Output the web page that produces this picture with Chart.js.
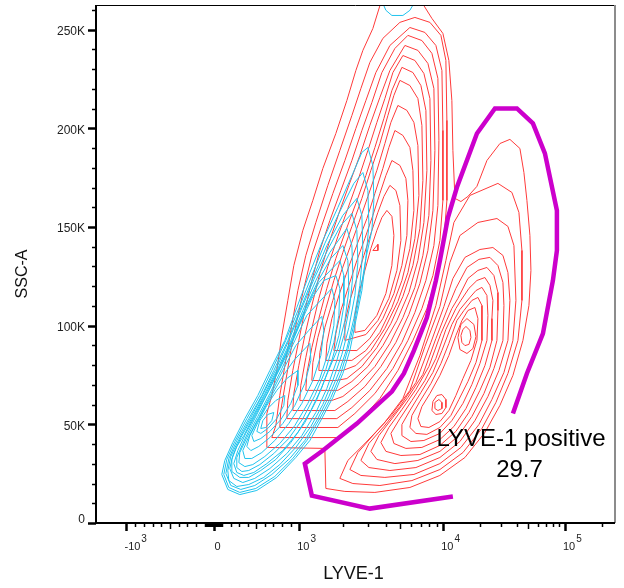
<!DOCTYPE html>
<html>
<head>
<meta charset="utf-8">
<script src="https://cdn.jsdelivr.net/npm/chart.js@4/dist/chart.umd.min.js"></script>
<style>
  html, body { margin: 0; padding: 0; background: #fff; }
</style>
</head>
<body>
<canvas id="plot" width="624" height="588"></canvas>
<script>
// Contour lines: [LYVE-1 intensity, SSC-A in thousands]
const redOuterRing = [[3693,263.8],[7113,263.8],[8347,255.7],[9950,248.1],[11130,234.4],[11780,214.1],[12010,188.8],[12480,164.5],[13980,162.9],[15960,165.5],[18920,170.6],[22860,183.7],[29230,192.3],[35310,194.4],[42660,189.8],[46010,177.6],[48700,163.5],[51540,145.7],[52530,128.0],[50580,110.2],[45150,92.5],[37380,74.8],[29230,59.6],[22010,45.9],[15080,33.2],[9487,24.1],[5872,18.0],[3355,15.5],[2077,16.0],[1532,17.5],[1508,37.8],[623,38.3],[623,55.5],[681,64.6],[739,77.3],[798,95.0],[868,112.8],[938,130.5],[1061,148.3],[1245,163.5],[1461,179.7],[1798,197.4],[2144,214.1],[2476,229.3],[2770,239.5],[3249,250.6]];

const redMainRings = [
  [[6360,256.2],[8085,253.7],[9640,247.1],[10520,234.4],[10720,204.0],[10720,163.5],[10130,143.2],[9042,125.4],[7705,108.7],[6161,92.5],[4847,77.3],[3635,63.1],[2640,51.9],[1917,43.3],[681,43.3],[728,49.4],[774,64.6],[844,82.4],[914,100.1],[985,117.8],[1113,135.6],[1306,152.3],[1582,171.1],[1917,188.8],[2323,206.5],[2683,220.2],[3097,233.4],[3813,245.6],[5004,253.7]],
  [[5872,251.1],[7463,248.6],[8898,242.0],[9795,229.3],[9950,198.9],[9950,163.5],[9487,143.2],[8482,125.4],[7113,108.7],[5687,92.5],[4475,78.3],[3355,65.6],[2437,55.5],[1857,48.4],[774,48.4],[786,57.0],[844,72.2],[903,87.4],[973,102.6],[1078,118.9],[1225,135.6],[1437,150.8],[1714,167.0],[2077,183.7],[2476,199.9],[2906,214.1],[3409,228.3],[4265,242.0]],
  [[5687,247.1],[7113,244.5],[8347,238.0],[9187,225.3],[9335,193.9],[9187,160.9],[8618,140.6],[7583,122.9],[6360,106.7],[5167,91.5],[4065,78.3],[3097,67.2],[2323,58.5],[1827,52.9],[856,52.9],[868,62.1],[926,77.3],[996,92.5],[1095,107.7],[1225,122.9],[1392,138.1],[1634,153.3],[1948,168.5],[2323,183.7],[2726,198.9],[3198,213.1],[3753,228.3],[4620,240.5]],
  [[5421,242.0],[6673,239.5],[7829,232.9],[8618,220.2],[8757,188.8],[8482,158.4],[7829,138.1],[6889,121.4],[5779,105.7],[4695,91.5],[3693,79.3],[2860,69.2],[2179,61.6],[1770,57.0],[926,57.0],[938,65.6],[996,79.8],[1095,95.0],[1225,110.2],[1392,126.5],[1608,141.7],[1887,156.9],[2214,171.1],[2640,186.3],[3097,201.5],[3635,215.7],[4265,229.3]],
  [[5250,236.9],[6360,234.4],[7344,227.8],[8085,215.1],[8215,183.7],[7956,155.9],[7228,135.6],[6360,119.4],[5250,104.1],[4265,91.0],[3355,79.3],[2598,70.7],[2011,64.1],[1687,62.1],[1011,62.1],[1027,69.7],[1113,83.9],[1225,98.6],[1370,113.8],[1582,130.0],[1857,145.2],[2179,159.4],[2557,173.6],[3001,188.8],[3464,203.0],[3937,215.1],[4475,228.3]],
  [[5167,230.9],[6161,228.3],[7000,221.7],[7583,209.1],[7705,178.7],[7344,152.3],[6673,133.0],[5779,116.8],[4770,102.6],[3813,89.9],[3001,79.3],[2323,71.7],[1857,67.2],[1113,67.2],[1131,75.8],[1225,88.9],[1370,103.6],[1557,118.9],[1798,134.1],[2110,148.3],[2476,161.9],[2906,176.1],[3355,190.3],[3875,205.0],[4404,219.2]],
  [[5004,224.3],[5872,221.7],[6673,215.1],[7113,201.5],[7228,173.6],[6889,149.3],[6161,130.5],[5250,114.8],[4334,101.1],[3464,88.9],[2726,79.3],[2144,73.2],[1798,72.2],[1225,72.2],[1245,81.3],[1348,94.0],[1532,108.7],[1742,122.9],[2011,137.1],[2323,150.3],[2726,164.5],[3147,178.7],[3635,192.3],[4131,206.5],[4547,216.7]],
  [[4847,211.6],[5597,209.1],[6260,203.0],[6673,191.3],[6780,166.0],[6360,144.2],[5687,126.9],[4847,112.3],[3937,98.6],[3147,87.4],[2476,79.8],[2011,77.3],[1370,77.3],[1392,86.4],[1508,99.1],[1714,112.8],[1948,126.9],[2250,139.6],[2598,152.3],[3001,165.5],[3464,178.7],[3937,192.3],[4334,203.0]],
  [[4620,198.9],[5250,196.4],[5872,190.3],[6161,178.7],[6260,158.4],[5872,139.1],[5167,122.9],[4404,109.2],[3635,96.6],[2906,87.4],[2323,82.4],[1532,82.4],[1557,91.0],[1687,103.6],[1917,116.8],[2214,130.0],[2557,142.2],[2953,154.3],[3355,167.0],[3813,179.7],[4197,190.3]],
  [[4404,183.7],[5004,181.2],[5508,174.6],[5687,163.5],[5597,145.7],[5167,130.5],[4547,116.3],[3813,103.6],[3097,93.5],[2516,87.4],[1742,87.4],[1798,96.0],[1948,107.7],[2214,120.4],[2516,133.0],[2860,144.2],[3249,155.9],[3635,167.0],[4001,176.1]],
  [[4265,171.1],[4695,168.5],[5004,160.9],[5085,143.2],[4770,128.0],[4197,113.8],[3520,102.6],[2906,95.5],[2077,92.5],[2077,101.6],[2250,112.8],[2516,123.9],[2815,135.6],[3147,146.7],[3520,157.4],[3875,165.5]],
  [[4065,158.4],[4404,155.4],[4547,145.7],[4404,130.5],[4001,116.3],[3464,105.2],[2860,97.6],[2437,96.6],[2437,105.2],[2598,116.3],[2860,128.0],[3147,139.1],[3464,148.3],[3753,154.8]],
  [[3249,138.1],[3520,141.2],[3520,138.1]]
];

const redRightRings = [
  [[8898,110.2],[10520,133.0],[12240,152.3],[16570,166.0],[28140,172.1],[36680,167.5],[41860,157.4],[44310,138.1],[44310,112.8],[41080,92.5],[34010,75.8],[27100,61.1],[20800,47.9],[14520,35.7],[9487,27.1],[6063,21.5],[3635,19.0],[2360,20.0],[1917,22.6],[2179,31.7],[2860,40.3],[3875,50.4],[5250,63.1],[6889,84.9]],
  [[9487,109.7],[11350,132.0],[13720,145.7],[19280,152.3],[27620,154.3],[34010,150.3],[38090,140.6],[39550,112.8],[37380,92.5],[31530,76.3],[25120,62.6],[19650,49.9],[13980,38.3],[9487,30.1],[6260,24.6],[3937,23.1],[2683,24.1],[2250,27.1],[2557,35.7],[3302,44.9],[4404,55.0],[5872,67.2],[7463,89.4]],
  [[10130,109.7],[12010,123.9],[15080,134.6],[20020,138.6],[25600,139.6],[30940,135.6],[34010,126.9],[35310,112.8],[34010,92.5],[28680,77.3],[23290,64.1],[18220,51.9],[13720,41.3],[9487,33.2],[6463,28.1],[4265,26.6],[3049,28.1],[2683,31.7],[3049,40.3],[3875,48.9],[5004,59.0],[6463,71.2],[8215,91.5]],
  [[10930,109.2],[12710,118.9],[15660,129.5],[19650,133.6],[24190,134.6],[28140,130.5],[30940,121.9],[31530,110.2],[30940,92.5],[26090,78.3],[21600,65.6],[17210,54.0],[13210,43.8],[9487,36.3],[6673,31.7],[4620,30.1],[3464,32.2],[3147,36.3],[3577,44.3],[4475,53.5],[5687,63.6],[7228,75.3],[8898,93.5]],
  [[11780,108.7],[13210,113.8],[15960,123.9],[19280,128.0],[22860,129.5],[26090,125.4],[28140,116.8],[28140,107.7],[27620,92.5],[24190,78.8],[20020,67.2],[16260,56.0],[12710,46.4],[9487,39.3],[6889,34.7],[5085,34.2],[4001,36.3],[3693,40.8],[4197,48.4],[5167,57.5],[6463,67.7],[7956,79.3],[9640,96.0]],
  [[12710,108.7],[13980,112.8],[16260,118.9],[18920,122.9],[22010,124.4],[24190,120.4],[25600,112.8],[25120,103.6],[25120,92.5],[22010,79.8],[18570,68.7],[15370,58.0],[12240,48.9],[9487,42.3],[7113,38.3],[5508,37.8],[4547,40.3],[4334,45.4],[5004,52.9],[6063,62.1],[7463,72.2],[8898,83.4],[10520,98.1]],
  [[13720,108.2],[16570,114.3],[18570,117.8],[20800,119.4],[22860,115.3],[23290,105.2],[22860,92.5],[20020,80.8],[17210,70.2],[14520,60.6],[11780,51.9],[9487,45.4],[7344,41.8],[5967,41.3],[5167,44.3],[5167,49.9],[5872,57.0],[7000,66.1],[8482,76.3],[9795,87.4],[11780,100.6]],
  [[14800,107.7],[17210,112.8],[19280,114.3],[20800,110.2],[20800,100.1],[20800,92.5],[18570,81.3],[15960,71.7],[13460,62.6],[11560,54.5],[9487,48.4],[7705,44.9],[6463,45.4],[5872,48.4],[6063,54.5],[6889,61.6],[8215,70.7],[9640,80.8],[11130,91.0],[12960,102.6]],
  [[15960,107.7],[18220,109.2],[19280,103.6],[18920,92.5],[16890,82.4],[14520,73.2],[12710,64.6],[11130,57.0],[9487,51.4],[7956,48.4],[7000,48.9],[6673,52.9],[7113,59.0],[8085,65.6],[9487,74.8],[11130,84.9],[12710,95.0],[14240,102.6]],
  [[15660,103.6],[17880,100.6],[18570,94.5],[17540,88.4],[15660,85.9],[13720,87.9],[13210,94.0],[13980,100.6]],
  [[15370,99.6],[16570,97.6],[16890,94.0],[16260,90.5],[15080,89.9],[14240,91.5],[13980,95.0],[14520,98.1]],
  [[9795,65.1],[10520,62.6],[10520,58.5],[9795,55.5],[8898,55.0],[8347,57.0],[8482,61.6],[9042,64.6]],
  [[9335,62.6],[9795,61.1],[9795,58.0],[9187,57.0],[8757,58.0],[8757,61.1]]
];

const blueRings = [
  [[3001,190.3],[3249,181.2],[3302,163.5],[3198,148.3],[2906,134.1],[2726,117.8],[2476,102.6],[2250,87.4],[2011,75.8],[1714,63.6],[1437,52.9],[1187,41.8],[961,33.2],[739,23.1],[506,16.5],[307,14.4],[167,17.0],[97,24.6],[132,31.7],[225,40.8],[366,52.9],[517,64.6],[658,77.3],[833,92.5],[973,109.2],[1187,126.9],[1461,143.2],[1857,159.9],[2360,177.1],[2726,187.8]],
  [[2770,177.6],[3001,168.5],[3049,150.8],[2906,134.1],[2683,118.9],[2437,102.6],[2179,87.9],[1948,75.8],[1660,63.6],[1392,52.9],[1131,41.8],[926,32.7],[716,23.6],[494,17.5],[307,15.5],[179,18.0],[120,24.6],[155,32.2],[249,41.3],[389,52.9],[541,64.6],[681,77.3],[844,92.5],[996,108.7],[1225,125.4],[1508,141.7],[1917,157.9],[2398,172.1]],
  [[2516,164.5],[2726,155.9],[2770,138.1],[2640,120.4],[2398,103.6],[2144,88.4],[1887,76.3],[1608,64.1],[1348,52.9],[1095,41.8],[891,32.7],[681,24.6],[482,19.0],[319,17.0],[202,19.0],[144,25.1],[179,32.7],[272,41.8],[412,52.9],[564,64.6],[704,77.3],[868,92.5],[1011,107.7],[1245,123.9],[1557,140.6],[2011,155.9]],
  [[2323,156.9],[2516,148.3],[2557,132.0],[2437,115.3],[2214,99.1],[1979,85.4],[1714,72.2],[1461,60.1],[1206,48.9],[961,38.3],[774,29.6],[587,23.1],[412,19.5],[272,18.5],[179,21.5],[167,26.6],[202,33.7],[296,42.3],[436,53.5],[576,65.1],[728,77.8],[879,92.5],[1027,107.7],[1265,123.4],[1582,138.6],[1948,150.8]],
  [[2144,149.3],[2323,140.6],[2360,125.4],[2250,110.2],[2044,95.0],[1827,82.4],[1557,68.2],[1306,56.0],[1044,44.3],[856,35.2],[658,27.6],[482,22.6],[342,20.5],[237,22.6],[190,27.6],[225,34.2],[319,43.3],[459,54.0],[599,65.6],[751,78.3],[903,92.5],[1061,107.7],[1306,122.9],[1634,137.1]],
  [[2011,140.6],[2179,133.0],[2214,117.8],[2077,102.6],[1857,88.4],[1557,75.3],[1327,62.6],[1095,50.9],[903,40.8],[728,32.2],[552,26.6],[412,23.1],[307,23.1],[214,26.1],[214,32.2],[272,38.8],[354,44.3],[482,55.0],[623,66.6],[774,79.3],[926,93.5],[1095,108.2],[1348,122.4],[1660,134.1]],
  [[1917,133.0],[2044,125.4],[2044,110.2],[1887,95.0],[1687,82.4],[1437,68.7],[1206,57.0],[985,45.9],[809,36.7],[623,30.1],[471,25.6],[354,24.1],[272,25.6],[237,30.1],[284,36.7],[377,45.4],[506,56.0],[646,67.2],[786,79.8],[938,94.0],[1113,108.7],[1370,121.9]],
  [[1798,125.4],[1917,118.9],[1887,105.2],[1742,91.5],[1532,77.8],[1285,64.6],[1061,52.9],[879,42.8],[704,35.2],[541,29.6],[412,26.6],[331,26.1],[272,28.1],[272,33.2],[342,40.3],[447,49.9],[576,61.1],[716,73.2],[868,86.4],[1011,100.6],[1225,113.8],[1484,122.9]],
  [[1687,118.9],[1770,112.8],[1742,100.1],[1608,87.4],[1392,73.2],[1149,60.6],[950,49.4],[774,40.3],[599,33.7],[459,29.6],[366,28.6],[296,30.6],[307,35.7],[389,43.3],[517,54.0],[658,65.6],[798,78.3],[950,92.5],[1131,105.2]],
  [[1437,104.7],[1484,97.6],[1415,84.9],[1245,72.2],[1044,60.6],[879,50.4],[716,41.8],[564,35.7],[447,32.7],[366,32.7],[342,36.7],[412,43.8],[529,53.5],[669,65.1],[809,77.3],[961,89.9],[1168,97.6]],
  [[1187,91.0],[1206,82.4],[1095,70.7],[950,59.6],[809,50.4],[658,43.3],[529,38.8],[436,36.7],[389,38.8],[424,44.3],[529,52.9],[658,63.1],[798,73.7],[938,82.4]],
  [[985,77.3],[985,69.7],[903,60.6],[786,52.4],[658,46.4],[552,42.8],[471,41.3],[447,44.3],[517,50.9],[623,59.6],[739,67.2],[856,73.2]],
  [[833,64.6],[821,59.6],[739,52.9],[634,47.9],[552,45.4],[506,46.4],[541,51.9],[634,58.0],[728,62.1]],
  [[704,56.0],[681,51.9],[611,48.4],[552,47.9],[576,51.9],[634,55.0]]
];

const blueTopCap = [[3813,263.3],[4001,259.8],[4404,257.2],[5250,257.2],[5872,259.8],[6260,263.3]];

const gatePoints = [[37380,55.5],[48700,75.8],[65900,96.0],[79620,122.9],[85870,138.1],[85870,158.4],[68440,187.3],[54550,202.5],[40310,210.1],[26590,210.1],[18920,197.4],[12960,170.1],[10930,154.8],[9487,133.0],[8898,122.9],[7705,104.1],[6260,87.4],[5335,75.8],[4404,66.6],[2516,50.4],[1461,36.7],[1095,30.1],[1225,13.9],[3097,7.3],[12010,13.4]];

const gateName = 'LYVE-1 positive';
const gatePercent = '29.7';

const xMajorTicks = [-1000, 0, 1000, 10000, 100000];
const xMajorLabels = [['-10', '3'], ['0', ''], ['10', '3'], ['10', '4'], ['10', '5']];
const yMajorTicks = [0, 50, 100, 150, 200, 250];
const yMajorLabels = ['0', '50K', '100K', '150K', '200K', '250K'];
const xLimits = [-1350, 257600];
const yLimits = [0, 262.5];

// biexponential-style display: linear around zero, log above 10^3
function toDisplay(v) {
  if (v <= 0) return v / 1000 * (87 / 85.6);
  if (v <= 1000) return v / 1000;
  if (v <= 10000) return 1 + (144 / 85.6) * Math.log10(v / 1000);
  return 1 + 144 / 85.6 + (121.7 / 85.6) * Math.log10(v / 10000);
}

function ringData(ring, closed) {
  const pts = ring.map(p => ({ x: toDisplay(p[0]), y: p[1] }));
  if (closed) pts.push(pts[0]);
  return pts;
}

function lineSet(ring, color, width, closed, order) {
  return {
    data: ringData(ring, closed),
    showLine: true,
    borderColor: color,
    borderWidth: width,
    pointRadius: 0,
    tension: 0,
    fill: false,
    order: order
  };
}

const RED = '#ff3a3a';
const BLUE = '#1fc3ee';
const GATE = '#cc00cc';

const datasets = [];
datasets.push(lineSet(gatePoints, GATE, 4.5, false, 0));
blueRings.forEach(r => datasets.push(lineSet(r, BLUE, 1, true, 1)));
datasets.push(lineSet(blueTopCap, BLUE, 1, false, 1));
datasets.push(lineSet(redOuterRing, RED, 1, true, 2));
redMainRings.forEach(r => datasets.push(lineSet(r, RED, 1, true, 2)));
redRightRings.forEach(r => datasets.push(lineSet(r, RED, 1, true, 2)));

const FONT = '"Liberation Sans", Arial, sans-serif';

// axes, ticks, titles and the gate label
const flowAxes = {
  id: 'flowAxes',
  afterDraw(chart) {
    const ctx = chart.ctx;
    const a = chart.chartArea;
    const xs = chart.scales.x, ys = chart.scales.y;
    ctx.save();

    // frame
    ctx.strokeStyle = '#000';
    ctx.lineWidth = 1;
    ctx.beginPath(); ctx.moveTo(a.left, a.top + 0.5); ctx.lineTo(a.right, a.top + 0.5); ctx.stroke();
    ctx.strokeStyle = '#8c8c8c';
    ctx.lineWidth = 2;
    ctx.beginPath(); ctx.moveTo(a.right, a.top); ctx.lineTo(a.right, a.bottom); ctx.stroke();
    ctx.strokeStyle = '#000';
    ctx.beginPath(); ctx.moveTo(a.left, a.top); ctx.lineTo(a.left, a.bottom); ctx.lineTo(a.right, a.bottom); ctx.stroke();

    // y ticks
    for (let v = 0; v <= 260; v += 10) {
      const py = Math.round(ys.getPixelForValue(v)) + 0.5;
      const major = v % 50 === 0;
      ctx.lineWidth = major ? 2.5 : 1.5;
      ctx.beginPath(); ctx.moveTo(a.left - (major ? 8 : 4), py); ctx.lineTo(a.left, py); ctx.stroke();
    }
    ctx.fillStyle = '#222';
    ctx.font = '12px ' + FONT;
    ctx.textAlign = 'right';
    ctx.textBaseline = 'middle';
    yMajorTicks.forEach((v, i) => {
      const py = ys.getPixelForValue(v);
      ctx.fillText(yMajorLabels[i], a.left - 11, v === 0 ? py - 3 : py + 2);
    });

    // x ticks
    const minor = [];
    for (let k = 1; k <= 9; k++) {
      minor.push([-100 * k, k === 5], [100 * k, k === 5], [-10 * k, false], [10 * k, false]);
    }
    for (let k = 2; k <= 9; k++) {
      minor.push([1000 * k, k === 5], [10000 * k, k === 5]);
    }
    minor.push([200000, false]);
    minor.forEach(([v, mid]) => {
      const px = Math.round(xs.getPixelForValue(toDisplay(v))) + 0.5;
      ctx.lineWidth = 1.5;
      ctx.beginPath(); ctx.moveTo(px, a.bottom); ctx.lineTo(px, a.bottom + (mid ? 6 : 4)); ctx.stroke();
    });
    xMajorTicks.forEach(v => {
      const px = Math.round(xs.getPixelForValue(toDisplay(v))) + 0.5;
      ctx.lineWidth = 2.5;
      ctx.beginPath(); ctx.moveTo(px, a.bottom); ctx.lineTo(px, a.bottom + 8); ctx.stroke();
    });
    ctx.textAlign = 'left';
    ctx.textBaseline = 'alphabetic';
    xMajorTicks.forEach((v, i) => {
      const px = xs.getPixelForValue(toDisplay(v));
      const [base, sup] = xMajorLabels[i];
      ctx.font = '11px ' + FONT;
      const left = sup ? px - 2 : px + 1;
      ctx.fillText(base, left, 550);
      if (sup) {
        const w = ctx.measureText(base).width;
        ctx.font = '10px ' + FONT;
        ctx.fillText(sup, left + w + 1, 541.5);
      }
    });

    // axis titles
    ctx.fillStyle = '#111';
    ctx.textAlign = 'center';
    ctx.textBaseline = 'middle';
    ctx.font = '18px ' + FONT;
    ctx.fillText('LYVE-1', (a.left + a.right) / 2 - 2, 574);
    ctx.save();
    ctx.translate(23, 274);
    ctx.rotate(-Math.PI / 2);
    ctx.font = '16px ' + FONT;
    ctx.fillText('SSC-A', 0, 0);
    ctx.restore();

    // gate label
    ctx.fillStyle = '#000';
    ctx.font = '24px ' + FONT;
    ctx.fillText(gateName, 521, 439);
    ctx.fillText(gatePercent, 519.5, 470);
    ctx.restore();
  }
};

new Chart(document.getElementById('plot'), {
  type: 'scatter',
  data: { datasets: datasets },
  options: {
    responsive: false,
    devicePixelRatio: 1,
    animation: false,
    events: [],
    layout: { padding: { left: 96, top: 5, right: 9, bottom: 65 } },
    plugins: { legend: { display: false }, tooltip: { enabled: false } },
    scales: {
      x: { type: 'linear', display: false, min: toDisplay(xLimits[0]), max: toDisplay(xLimits[1]) },
      y: { type: 'linear', display: false, min: yLimits[0], max: yLimits[1] }
    }
  },
  plugins: [flowAxes]
});
</script>
</body>
</html>
